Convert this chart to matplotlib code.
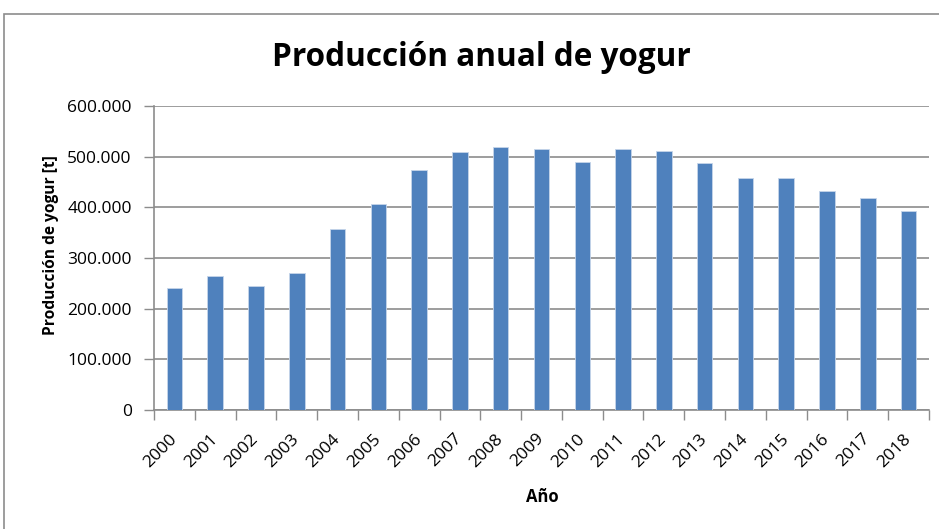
import matplotlib
matplotlib.use("Agg")
import matplotlib.pyplot as plt
from matplotlib.patches import Rectangle
from matplotlib.ticker import FuncFormatter, FixedLocator
import numpy as np

years = ["2000", "2001", "2002", "2003", "2004", "2005", "2006", "2007", "2008", "2009",
         "2010", "2011", "2012", "2013", "2014", "2015", "2016", "2017", "2018"]
production = [241000, 264000, 244000, 270000, 358000, 406000, 474000, 510000, 519000, 516000,
              490000, 516000, 512000, 487000, 458000, 458000, 432000, 419000, 393000]

title = "Producción anual de yogur"
ylabel = "Producción de yogur [t]"
xlabel = "Año"

W, H = 939, 529
fig = plt.figure(figsize=(W / 100, H / 100), dpi=100)
plt.rcParams['font.family'] = ['Open Sans', 'DejaVu Sans']

# outer chart frame
fig.patches.append(Rectangle((4 / W, -0.05), 1.2, (H - 14) / H + 0.05, transform=fig.transFigure,
                             fill=False, edgecolor="#8c8c8c", linewidth=1.2))

ax = fig.add_axes([154 / W, 1 - 410 / H, (929 - 154) / W, (410 - 106) / H])
x = np.arange(len(years))
ax.bar(x, production, width=0.38, color="#4F81BD", edgecolor="#c6d5ea", linewidth=0.6, zorder=3)

ax.set_xlim(-0.5, len(years) - 0.5)
ax.set_ylim(0, 600000)
ax.set_yticks(np.arange(0, 600001, 100000))
ax.yaxis.set_major_formatter(FuncFormatter(lambda v, p: "0" if v == 0 else f"{int(v):,}".replace(",", ".")))
ax.set_xticks(x)
ax.set_xticklabels(years, rotation=45, ha="right", va="center", rotation_mode="anchor", fontsize=12.5)
ax.xaxis.set_minor_locator(FixedLocator(np.arange(-0.5, len(years), 1)))
ax.tick_params(axis="x", which="major", length=0, pad=19)
ax.tick_params(axis="x", which="minor", length=7, color="#8c8c8c", width=1)
ax.tick_params(axis="y", length=7, color="#8c8c8c", width=1, labelsize=12.5, pad=9)

ax.grid(axis="y", color="#8c8c8c", linewidth=1.2, zorder=0)
for s in ["top", "right"]:
    ax.spines[s].set_visible(False)
for s in ["left", "bottom"]:
    ax.spines[s].set_color("#8c8c8c")
    ax.spines[s].set_linewidth(1.2)

fig.text(51 / W, 1 - 245 / H, ylabel, rotation=90, ha="center", va="center",
         fontsize=11.2, fontweight="bold")
fig.text(542 / W, 1 - 497 / H, xlabel, ha="center", va="center",
         fontsize=12, fontweight="bold")
fig.text(481 / W, 1 - 57 / H, title, ha="center", va="center",
         fontsize=22.7, fontweight="bold")

fig.savefig("out.png", dpi=100)
